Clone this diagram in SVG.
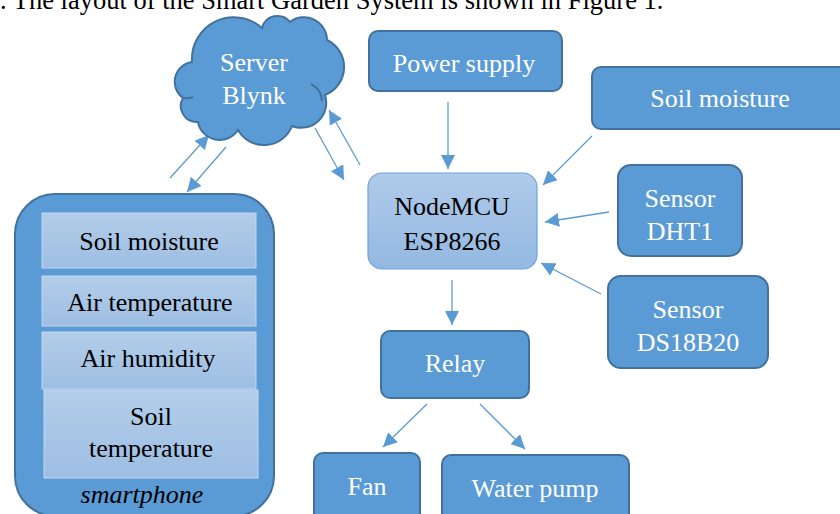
<svg xmlns="http://www.w3.org/2000/svg" width="840" height="514" viewBox="0 0 840 514">
<style>
.node{fill:#5b9bd5;stroke:#41719c;stroke-width:2}
.wt{fill:#fff;font-family:"Liberation Serif",serif;font-size:26px;text-anchor:middle}
.bt{fill:#000;font-family:"Liberation Serif",serif;font-size:26px;text-anchor:middle}
.conn{stroke:#5b9bd5;stroke-width:1.3;fill:none;marker-end:url(#ah)}
.inner{fill:url(#ig);stroke:#c5d8ee;stroke-width:1}
</style>
<defs>
<marker id="ah" markerUnits="userSpaceOnUse" markerWidth="16" markerHeight="14" refX="14" refY="7" orient="auto">
<path d="M0,0 L14,7 L0,14 Z" fill="#5b9bd5"/>
</marker>
<linearGradient id="ig" x1="0" y1="0" x2="0" y2="1">
<stop offset="0" stop-color="#b3cde9"/>
<stop offset="1" stop-color="#9dbee3"/>
</linearGradient>
<linearGradient id="mg" x1="0" y1="0" x2="0" y2="1">
<stop offset="0" stop-color="#b0cbea"/>
<stop offset="1" stop-color="#93b8e1"/>
</linearGradient>
</defs>
<text x="0" y="9" style="font-family:'Liberation Serif',serif;font-size:26.5px;fill:#000">. The layout of the Smart Garden System is shown in Figure 1.</text>

<g id="connectors">
<line class="conn" x1="170" y1="178" x2="209" y2="135"/>
<line class="conn" x1="226" y1="147" x2="187" y2="192"/>
<line class="conn" x1="315" y1="128" x2="344" y2="180"/>
<line class="conn" x1="360" y1="165" x2="329" y2="110"/>
<line class="conn" x1="448" y1="102" x2="448" y2="169"/>
<line class="conn" x1="592" y1="136" x2="543" y2="185"/>
<line class="conn" x1="609" y1="212" x2="545" y2="222"/>
<line class="conn" x1="601" y1="294" x2="541" y2="263"/>
<line class="conn" x1="452" y1="280" x2="452" y2="325"/>
<line class="conn" x1="427" y1="404" x2="383" y2="447"/>
<line class="conn" x1="480" y1="404" x2="525" y2="449"/>
</g>

<g id="server">
<path class="node" d="M183,98 A20,20 0 0 1 192,62 A42,42 0 0 1 262,28 A16,16 0 0 1 290,22 A23,23 0 0 1 327,40 A30,30 0 0 1 325,95 A25,25 0 0 1 292,126 A30,30 0 0 1 238,130 A22,22 0 0 1 198,122 A16,16 0 0 1 183,98 Z"/>
<path d="M311,84 A20,20 0 0 1 322,101" fill="none" stroke="#41719c" stroke-width="2"/>
<path d="M183,98 A18,18 0 0 0 193,97" fill="none" stroke="#41719c" stroke-width="2"/>
<text class="wt" x="254" y="71">Server</text>
<text class="wt" x="254" y="104">Blynk</text>
</g>

<g id="power">
<rect class="node" x="369" y="31" width="193" height="60" rx="9"/>
<text class="wt" x="464" y="72">Power supply</text>
</g>

<g id="soil-sensor">
<rect class="node" x="592" y="67" width="260" height="62" rx="9"/>
<text class="wt" x="720" y="107">Soil moisture</text>
</g>

<g id="nodemcu">
<rect x="368" y="173" width="169" height="96" rx="14" fill="url(#mg)" stroke="#6fa3da" stroke-width="1.2"/>
<text class="bt" x="452" y="215">NodeMCU</text>
<text class="bt" x="452" y="250">ESP8266</text>
</g>

<g id="dht">
<rect class="node" x="618" y="165" width="124" height="91" rx="13"/>
<text class="wt" x="680" y="207">Sensor</text>
<text class="wt" x="680" y="240">DHT1</text>
</g>

<g id="ds18b20">
<rect class="node" x="608" y="276" width="160" height="92" rx="13"/>
<text class="wt" x="688" y="318">Sensor</text>
<text class="wt" x="688" y="351">DS18B20</text>
</g>

<g id="relay">
<rect class="node" x="381" y="331" width="148" height="67" rx="9"/>
<text class="wt" x="455" y="372">Relay</text>
</g>

<g id="fan">
<rect class="node" x="314" y="453" width="106" height="70" rx="9"/>
<text class="wt" x="367" y="495">Fan</text>
</g>

<g id="pump">
<rect class="node" x="442" y="455" width="187" height="70" rx="9"/>
<text class="wt" x="535" y="497">Water pump</text>
</g>

<g id="smartphone">
<rect class="node" x="15" y="194" width="259" height="322" rx="40"/>
<rect class="inner" x="42" y="213" width="214" height="55"/>
<text class="bt" x="149" y="250">Soil moisture</text>
<rect class="inner" x="42" y="276" width="214" height="50"/>
<text class="bt" x="150" y="311">Air temperature</text>
<rect class="inner" x="42" y="332" width="214" height="57"/>
<text class="bt" x="148" y="367">Air humidity</text>
<rect class="inner" x="44" y="390" width="214" height="88"/>
<text class="bt" x="151" y="425">Soil</text>
<text class="bt" x="151" y="457">temperature</text>
<text x="142" y="503" style="font-family:'Liberation Serif',serif;font-size:26px;font-style:italic;fill:#000;text-anchor:middle">smartphone</text>
</g>
</svg>
